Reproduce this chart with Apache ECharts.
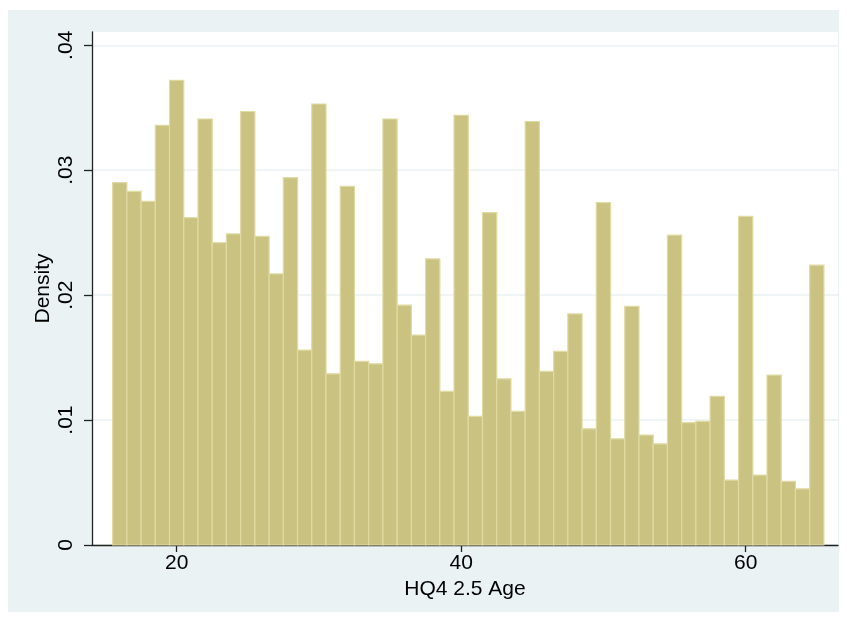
<!DOCTYPE html>
<html>
<head>
<meta charset="utf-8">
<script src="https://cdn.jsdelivr.net/npm/echarts@6/dist/echarts.min.js"></script>
<style>
  html, body { margin: 0; padding: 0; background: #ffffff; }
  #chart { width: 847px; height: 622px; }
</style>
</head>
<body>
<div id="chart"></div>
<script>
// Data (discrete ages, density)
const ages = [16,17,18,19,20,21,22,23,24,25,26,27,28,29,30,31,32,33,34,35,36,37,38,39,40,
              41,42,43,44,45,46,47,48,49,50,51,52,53,54,55,56,57,58,59,60,61,62,63,64,65];
const density = [0.0290,0.0283,0.0275,0.0336,0.0372,0.0262,0.0341,0.0242,0.0249,0.0347,
                 0.0247,0.0217,0.0294,0.0156,0.0353,0.0137,0.0287,0.0147,0.0145,0.0341,
                 0.0192,0.0168,0.0229,0.0123,0.0344,0.0103,0.0266,0.0133,0.0107,0.0339,
                 0.0139,0.0155,0.0185,0.0093,0.0274,0.0085,0.0191,0.0088,0.0081,0.0248,
                 0.0098,0.0099,0.0119,0.0052,0.0263,0.0056,0.0136,0.0051,0.0045,0.0224];
const xTicks = [20, 40, 60];
const yTicks = [0, 0.01, 0.02, 0.03, 0.04];
const yTickLabels = ['0', '.01', '.02', '.03', '.04'];
const xTitle = 'HQ4 2.5 Age';
const yTitle = 'Density';
const binWidth = 1;

const FONT = '"Liberation Sans", Arial, Helvetica, sans-serif';
const chart = echarts.init(document.getElementById('chart'), null, { renderer: 'canvas' });

const option = {
  backgroundColor: '#ffffff',
  animation: false,
  graphic: [{
    type: 'rect', z: -10, silent: true,
    shape: { x: 8, y: 10, width: 831, height: 602 },
    style: { fill: '#eaf2f3' }
  }],
  grid: {
    left: 92, right: 9, top: 32, bottom: 77,
    show: true, backgroundColor: '#ffffff', borderWidth: 0
  },
  xAxis: {
    type: 'value',
    min: 14.05, max: 66.49,
    name: xTitle,
    nameLocation: 'middle',
    nameGap: 34,
    nameMoveOverlap: false,
    nameTextStyle: { fontFamily: FONT, fontSize: 21, color: '#000' },
    axisLine: { show: true, onZero: false, lineStyle: { color: '#222', width: 1.3 } },
    axisTick: { show: true, length: 7, customValues: xTicks, lineStyle: { color: '#222', width: 1.3 } },
    axisLabel: { customValues: xTicks, margin: 8, fontFamily: FONT, fontSize: 21, color: '#000' },
    splitLine: { show: false }
  },
  yAxis: {
    type: 'value',
    min: 0, max: 0.041064,
    name: yTitle,
    nameLocation: 'middle',
    nameGap: 38,
    nameMoveOverlap: false,
    nameRotate: 90,
    nameTextStyle: { fontFamily: FONT, fontSize: 21, color: '#000' },
    axisLine: { show: true, lineStyle: { color: '#222', width: 1.3 } },
    axisTick: { show: true, length: 8, customValues: yTicks, lineStyle: { color: '#222', width: 1.3 } },
    axisLabel: {
      customValues: yTicks,
      rotate: 90, margin: 15,
      fontFamily: FONT, fontSize: 21, color: '#000',
      formatter: function (v) {
        for (let i = 0; i < yTicks.length; i++) {
          if (Math.abs(v - yTicks[i]) < 1e-9) return yTickLabels[i];
        }
        return '';
      }
    },
    splitLine: { show: true, lineStyle: { color: '#eaf2f3', width: 1.5 } }
  },
  series: [{
    type: 'custom',
    data: ages.map((a, i) => [a, density[i]]),
    encode: { x: 0, y: 1 },
    renderItem: function (params, api) {
      const x = api.value(0), y = api.value(1);
      const p0 = api.coord([x - binWidth / 2, y]);
      const p1 = api.coord([x + binWidth / 2, 0]);
      return {
        type: 'rect',
        shape: { x: p0[0], y: p0[1], width: p1[0] - p0[0], height: p1[1] - p0[1] },
        style: { fill: '#cac280', stroke: '#e0daa3', lineWidth: 1.2 }
      };
    }
  }]
};
chart.setOption(option);
</script>
</body>
</html>
